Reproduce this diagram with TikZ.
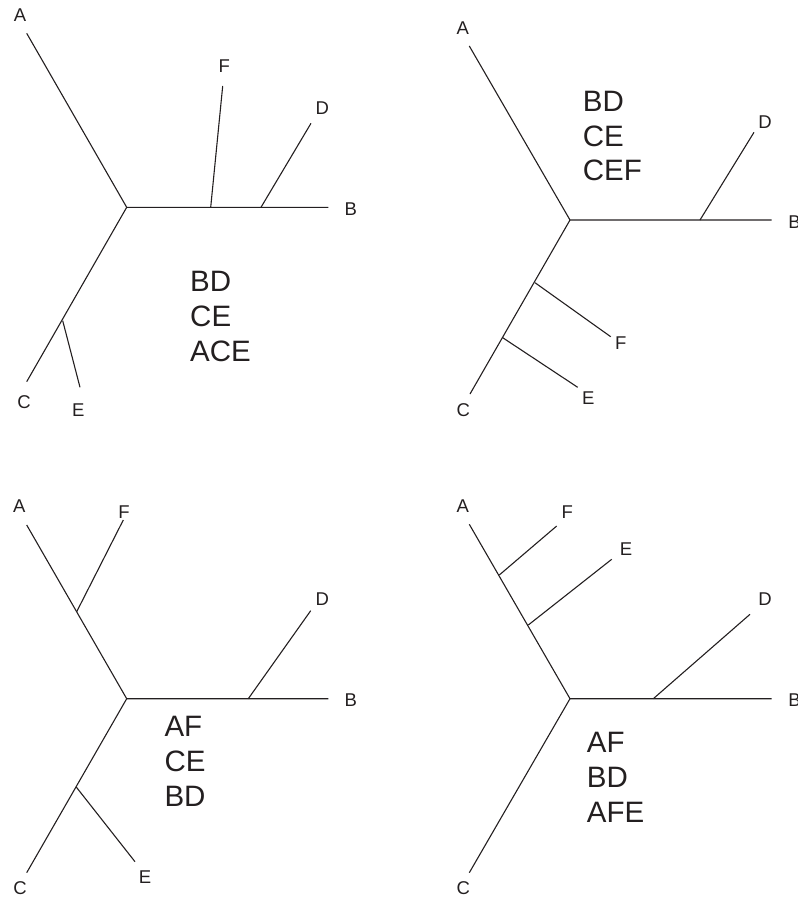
\documentclass[tikz,border=0pt]{standalone}
\usepackage{fontspec}
\setmainfont{Liberation Sans}
\definecolor{ink}{RGB}{35,31,32}
\begin{document}
\begin{tikzpicture}[x=1pt,y=-1pt,
  branch/.style={draw=ink,line width=1.1pt,line cap=butt},
  leaf/.style={text=ink,font=\fontsize{18.5}{21}\selectfont,inner sep=0pt,anchor=center},
  split/.style={text=ink,font=\fontsize{29.5}{34}\selectfont,inner sep=0pt,anchor=west}]
\useasboundingbox (0,0) rectangle (798,898);

% ---------- tree 1 ----------
\coordinate (t1c) at (126.7,207.3);
\coordinate (t1A) at (26.7,33.3);
\coordinate (t1B) at (328.3,207.3);
\coordinate (t1C) at (26.7,381.7);
\coordinate (t1jF) at (210.7,207.3);
\coordinate (t1F) at (222.7,86);
\coordinate (t1jD) at (261,207.3);
\coordinate (t1D) at (311,123.3);
\coordinate (t1jE) at (62.7,320.7);
\coordinate (t1E) at (80,387.3);
\draw[branch] (t1A) -- (t1c) -- (t1B);
\draw[branch] (t1c) -- (t1C);
\draw[branch] (t1jF) -- (t1F);
\draw[branch] (t1jD) -- (t1D);
\draw[branch] (t1jE) -- (t1E);
\node[leaf] (t1lA) at (20,15) {A};
\node[leaf] (t1lB) at (350.7,209.3) {B};
\node[leaf] (t1lC) at (24,401.7) {C};
\node[leaf] (t1lD) at (322.3,108.3) {D};
\node[leaf] (t1lE) at (78.3,410) {E};
\node[leaf] (t1lF) at (224.3,66) {F};
\node[split] (t1s1) at (190,281) {BD};
\node[split] (t1s2) at (190,316) {CE};
\node[split] (t1s3) at (190,351) {ACE};

% ---------- tree 2 ----------
\coordinate (t2c) at (570,220);
\coordinate (t2A) at (469.3,46);
\coordinate (t2B) at (771.7,220);
\coordinate (t2C) at (470,394);
\coordinate (t2jD) at (700,220);
\coordinate (t2D) at (754,132.3);
\coordinate (t2jF) at (535,282.7);
\coordinate (t2F) at (610.7,336.7);
\coordinate (t2jE) at (502.7,337.7);
\coordinate (t2E) at (577.7,387.3);
\draw[branch] (t2A) -- (t2c) -- (t2B);
\draw[branch] (t2c) -- (t2C);
\draw[branch] (t2jD) -- (t2D);
\draw[branch] (t2jF) -- (t2F);
\draw[branch] (t2jE) -- (t2E);
\node[leaf] (t2lA) at (462.7,28.3) {A};
\node[leaf] (t2lB) at (794.5,221.7) {B};
\node[leaf] (t2lC) at (463.3,410) {C};
\node[leaf] (t2lD) at (765,121.7) {D};
\node[leaf] (t2lE) at (588.3,398.3) {E};
\node[leaf] (t2lF) at (620.7,343.3) {F};
\node[split] (t2s1) at (582.7,101.7) {BD};
\node[split] (t2s2) at (582.7,136) {CE};
\node[split] (t2s3) at (582.7,170.7) {CEF};

% ---------- tree 3 ----------
\coordinate (t3c) at (126.7,698.7);
\coordinate (t3A) at (26.7,525);
\coordinate (t3B) at (328.3,698.7);
\coordinate (t3C) at (26.7,872.7);
\coordinate (t3jF) at (76.7,611.7);
\coordinate (t3F) at (123.3,520);
\coordinate (t3jD) at (248.3,698.7);
\coordinate (t3D) at (310.7,610.7);
\coordinate (t3jE) at (76,786.7);
\coordinate (t3E) at (135,861.7);
\draw[branch] (t3A) -- (t3c) -- (t3B);
\draw[branch] (t3c) -- (t3C);
\draw[branch] (t3jF) -- (t3F);
\draw[branch] (t3jD) -- (t3D);
\draw[branch] (t3jE) -- (t3E);
\node[leaf] (t3lA) at (19.3,506) {A};
\node[leaf] (t3lB) at (350.7,700) {B};
\node[leaf] (t3lC) at (20,888.3) {C};
\node[leaf] (t3lD) at (322.3,599.3) {D};
\node[leaf] (t3lE) at (145,876.7) {E};
\node[leaf] (t3lF) at (124,511.7) {F};
\node[split] (t3s1) at (164.3,726) {AF};
\node[split] (t3s2) at (164.3,761) {CE};
\node[split] (t3s3) at (164.3,796.7) {BD};

% ---------- tree 4 ----------
\coordinate (t4c) at (570,698.7);
\coordinate (t4A) at (469.3,524.3);
\coordinate (t4B) at (771.7,698.7);
\coordinate (t4C) at (469.3,872.7);
\coordinate (t4jF) at (499.3,575);
\coordinate (t4F) at (556.7,526);
\coordinate (t4jE) at (528.3,625);
\coordinate (t4E) at (611.7,559.3);
\coordinate (t4jD) at (653.3,698.7);
\coordinate (t4D) at (750,614.3);
\draw[branch] (t4A) -- (t4c) -- (t4B);
\draw[branch] (t4c) -- (t4C);
\draw[branch] (t4jF) -- (t4F);
\draw[branch] (t4jE) -- (t4E);
\draw[branch] (t4jD) -- (t4D);
\node[leaf] (t4lA) at (462.7,506) {A};
\node[leaf] (t4lB) at (794.5,700) {B};
\node[leaf] (t4lC) at (463.3,888.3) {C};
\node[leaf] (t4lD) at (765,599.3) {D};
\node[leaf] (t4lE) at (626,549) {E};
\node[leaf] (t4lF) at (567.3,511.7) {F};
\node[split] (t4s1) at (586.7,742.7) {AF};
\node[split] (t4s2) at (586.7,777.3) {BD};
\node[split] (t4s3) at (586.7,812.3) {AFE};
\end{tikzpicture}
\end{document}
